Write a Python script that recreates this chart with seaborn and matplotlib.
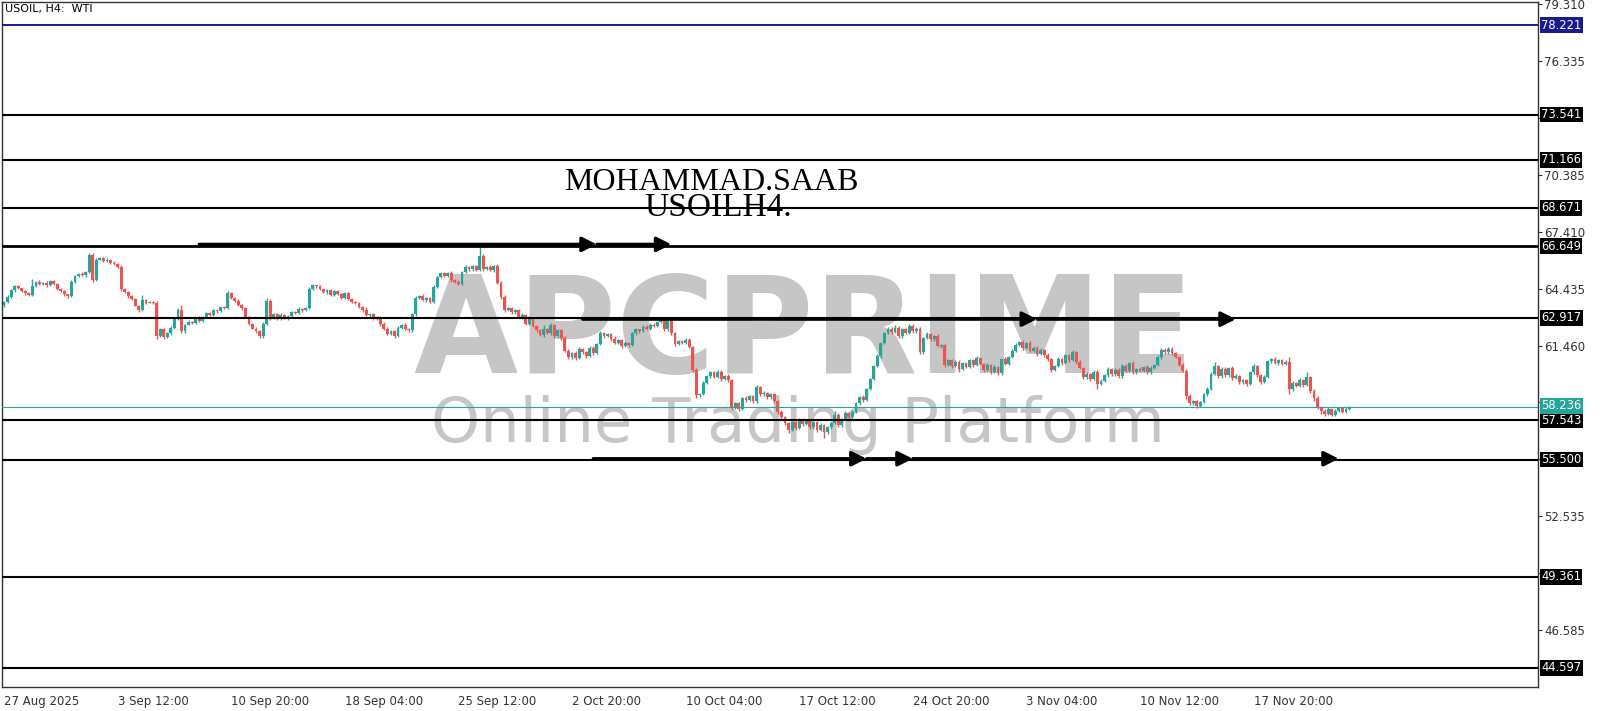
import numpy as np
import matplotlib
matplotlib.use("Agg")
import matplotlib.pyplot as plt
import matplotlib.transforms as mtransforms
import seaborn as sns

sns.set_style("white")
plt.rcParams['font.family'] = ['DejaVu Sans']

# --- USOIL H4 closes (one row = 16 bars, ticks every 32 bars) ---
FIRST_OPEN = 63.60
CLOSE = [
    63.75, 64.00, 64.35, 64.55, 64.45, 64.30, 64.20, 64.10, 64.55, 64.80, 64.70, 64.75, 64.60, 64.85, 64.70, 64.40,
    64.30, 64.15, 64.05, 64.80, 65.10, 65.20, 65.15, 65.30, 66.20, 64.90, 65.95, 66.05, 65.90, 65.95, 65.80, 65.70,
    65.55, 64.40, 64.25, 64.05, 63.90, 63.55, 63.30, 63.85, 63.70, 63.75, 63.70, 61.95, 62.30, 61.90, 62.10, 62.40,
    62.85, 63.30, 62.20, 62.55, 62.70, 62.65, 62.90, 62.75, 62.95, 63.15, 63.05, 63.30, 63.25, 63.45, 63.40, 64.20,
    63.95, 63.80, 63.60, 63.40, 62.95, 62.60, 62.35, 62.20, 61.95, 62.60, 63.80, 62.90, 63.10, 62.85, 63.05, 62.90,
    63.00, 63.20, 63.15, 63.35, 63.30, 63.40, 64.40, 64.60, 64.55, 64.40, 64.25, 64.35, 64.10, 64.30, 64.15, 63.95,
    64.20, 63.90, 63.75, 63.70, 63.45, 63.30, 63.05, 63.10, 62.85, 62.95, 62.60, 62.35, 62.05, 62.20, 61.95, 62.40,
    62.55, 62.30, 62.25, 63.10, 63.95, 64.05, 63.85, 63.95, 63.75, 64.50, 65.05, 65.25, 65.10, 65.25, 64.90, 64.80,
    64.70, 65.30, 65.55, 65.45, 65.60, 65.40, 66.15, 65.45, 65.55, 65.40, 65.60, 64.75, 64.00, 63.30, 63.40, 63.20,
    63.30, 62.95, 63.05, 62.60, 62.90, 62.50, 62.25, 62.00, 62.30, 62.10, 62.55, 61.95, 62.25, 61.85, 61.20, 60.85,
    61.05, 60.80, 61.30, 61.10, 60.90, 61.35, 61.05, 61.55, 62.10, 61.95, 62.05, 61.80, 61.60, 61.75, 61.45, 61.60,
    61.50, 62.10, 62.30, 62.20, 62.45, 62.35, 62.55, 62.50, 62.70, 62.85, 62.30, 62.80, 62.10, 61.55, 61.70, 61.60,
    61.75, 61.40, 60.20, 58.85, 58.95, 59.50, 59.85, 60.05, 59.80, 60.10, 59.70, 59.85, 59.65, 58.20, 58.45, 58.15,
    58.70, 58.60, 58.80, 58.55, 59.30, 58.90, 59.00, 58.75, 58.90, 58.55, 58.00, 57.70, 57.40, 57.05, 57.45, 57.15,
    57.60, 57.35, 57.50, 57.20, 57.45, 57.05, 57.30, 56.95, 57.20, 57.40, 57.85, 57.30, 57.60, 57.95, 57.70, 58.00,
    58.45, 58.75, 58.60, 59.20, 59.70, 60.40, 60.90, 61.60, 62.10, 62.35, 62.15, 62.40, 61.95, 62.30, 62.10, 62.50,
    62.20, 62.35, 61.10, 61.85, 62.05, 61.80, 61.95, 61.45, 61.50, 60.45, 60.70, 60.40, 60.60, 60.25, 60.55, 60.35,
    60.70, 60.45, 60.80, 60.50, 60.20, 60.45, 60.10, 60.35, 60.00, 60.75, 60.50, 60.85, 61.20, 61.50, 61.65, 61.35,
    61.60, 61.20, 61.35, 61.00, 61.25, 60.95, 60.75, 60.20, 60.40, 60.75, 60.55, 60.95, 60.70, 61.10, 60.60, 60.30,
    59.80, 59.95, 59.70, 60.10, 59.45, 59.60, 59.90, 60.25, 59.95, 60.20, 59.85, 60.40, 60.15, 60.55, 60.05, 60.25,
    60.15, 60.35, 60.05, 60.30, 60.45, 60.85, 61.25, 61.10, 61.30, 61.05, 60.85, 60.45, 60.15, 58.80, 58.45, 58.55,
    58.30, 58.50, 58.90, 59.20, 59.95, 60.40, 59.85, 60.25, 59.90, 60.30, 59.75, 59.85, 59.55, 59.65, 59.45, 60.05,
    60.40, 59.90, 59.55, 59.80, 60.65, 60.75, 60.55, 60.70, 60.50, 60.60, 59.20, 59.50, 59.35, 59.65, 59.40, 59.80,
    59.10, 58.70, 58.25, 58.05, 57.90, 58.15, 57.85, 58.05, 58.20, 58.00, 58.15, 58.236,
]

# wick lengths above / below the body, in cents
UP_WICK = [
    6, 10, 8, 5, 6, 4, 8, 5, 40, 6, 8, 5, 10, 6, 4, 5,
    6, 4, 3, 8, 6, 5, 8, 6, 12, 8, 10, 6, 4, 8, 5, 6,
    8, 10, 6, 4, 5, 6, 4, 25, 6, 5, 4, 8, 10, 6, 5, 8,
    6, 10, 30, 5, 8, 6, 4, 10, 5, 6, 8, 5, 6, 4, 8, 12,
    6, 5, 8, 4, 6, 5, 4, 6, 8, 10, 15, 8, 6, 5, 10, 6,
    5, 8, 6, 10, 5, 6, 12, 8, 5, 6, 4, 8, 6, 5, 8, 6,
    5, 8, 6, 4, 5, 6, 20, 8, 5, 6, 4, 8, 6, 5, 8, 6,
    5, 8, 6, 5, 10, 6, 8, 6, 5, 10, 6, 5, 8, 6, 12, 6,
    8, 6, 10, 5, 8, 6, 45, 10, 6, 12, 8, 10, 6, 8, 5, 10,
    6, 8, 10, 5, 8, 6, 5, 8, 25, 6, 10, 5, 8, 6, 10, 8,
    6, 10, 8, 5, 8, 6, 8, 5, 10, 6, 8, 5, 15, 6, 5, 8,
    6, 8, 10, 5, 8, 6, 10, 8, 6, 10, 8, 6, 12, 8, 6, 5,
    8, 10, 6, 8, 5, 10, 8, 6, 10, 8, 6, 8, 10, 6, 5, 8,
    6, 10, 8, 5, 10, 6, 8, 5, 10, 6, 8, 10, 6, 5, 8, 6,
    8, 6, 10, 5, 8, 6, 10, 8, 6, 5, 20, 6, 8, 10, 6, 8,
    6, 8, 10, 6, 8, 5, 10, 6, 8, 10, 6, 15, 8, 6, 10, 8,
    10, 8, 6, 8, 10, 6, 8, 10, 6, 5, 8, 6, 10, 8, 6, 5,
    8, 6, 10, 8, 6, 8, 5, 10, 6, 8, 10, 6, 8, 10, 6, 8,
    6, 8, 10, 6, 8, 5, 10, 8, 6, 10, 8, 6, 8, 15, 6, 8,
    6, 10, 8, 6, 8, 10, 6, 8, 5, 10, 6, 8, 10, 6, 8, 6,
    8, 6, 10, 8, 6, 10, 8, 6, 10, 8, 6, 5, 8, 6, 10, 8,
    6, 8, 10, 8, 10, 20, 6, 8, 10, 6, 8, 10, 6, 8, 6, 10,
    8, 6, 8, 10, 6, 8, 10, 6, 8, 10, 25, 8, 6, 10, 8, 30,
    6, 8, 10, 6, 8, 10, 6, 8, 5, 6, 8, 4,
]
DN_WICK = [
    15, 6, 5, 8, 4, 6, 10, 5, 6, 4, 8, 5, 6, 4, 5, 6,
    4, 8, 10, 6, 5, 4, 6, 8, 5, 10, 6, 4, 5, 6, 8, 5,
    6, 10, 5, 8, 6, 4, 10, 5, 6, 4, 8, 15, 6, 12, 5, 8,
    6, 5, 10, 6, 4, 8, 5, 6, 8, 4, 6, 5, 8, 6, 5, 4,
    8, 6, 5, 10, 6, 8, 5, 6, 12, 8, 6, 10, 5, 8, 6, 5,
    8, 6, 5, 4, 8, 6, 5, 6, 10, 6, 5, 8, 6, 5, 6, 8,
    6, 5, 8, 6, 5, 10, 6, 8, 5, 6, 10, 8, 6, 5, 12, 6,
    8, 5, 10, 6, 8, 5, 6, 10, 6, 8, 5, 6, 8, 5, 10, 6,
    8, 6, 5, 8, 10, 6, 5, 8, 6, 5, 8, 6, 10, 8, 6, 10,
    8, 6, 10, 8, 6, 8, 10, 6, 8, 6, 10, 8, 6, 12, 10, 8,
    10, 12, 6, 8, 10, 6, 8, 5, 6, 8, 6, 10, 8, 6, 10, 8,
    10, 6, 8, 6, 5, 8, 6, 5, 8, 6, 10, 6, 8, 10, 6, 8,
    6, 8, 10, 12, 6, 8, 6, 8, 6, 5, 10, 6, 8, 12, 8, 10,
    6, 8, 6, 10, 8, 6, 8, 10, 6, 8, 10, 12, 10, 15, 8, 10,
    8, 10, 6, 12, 8, 10, 6, 35, 10, 8, 6, 10, 8, 6, 10, 8,
    6, 8, 10, 6, 8, 6, 5, 8, 6, 5, 8, 6, 10, 8, 6, 5,
    8, 6, 10, 8, 6, 10, 8, 6, 10, 12, 8, 10, 6, 15, 8, 6,
    8, 10, 6, 8, 10, 6, 12, 8, 10, 6, 8, 6, 5, 8, 6, 10,
    8, 6, 10, 8, 6, 10, 8, 10, 6, 8, 10, 6, 8, 6, 10, 8,
    10, 8, 12, 6, 25, 8, 6, 10, 8, 6, 10, 8, 6, 10, 8, 6,
    8, 10, 6, 8, 6, 5, 8, 6, 8, 10, 6, 8, 10, 15, 12, 10,
    12, 8, 6, 8, 6, 5, 10, 8, 6, 10, 8, 6, 10, 8, 12, 6,
    6, 10, 8, 6, 5, 8, 6, 10, 8, 6, 30, 10, 8, 6, 10, 8,
    10, 12, 10, 15, 12, 8, 10, 8, 6, 8, 6, 5,
]

DATE_LABELS = ["27 Aug 2025", "3 Sep 12:00", "10 Sep 20:00", "18 Sep 04:00", "25 Sep 12:00",
               "2 Oct 20:00", "10 Oct 04:00", "17 Oct 12:00", "24 Oct 20:00", "3 Nov 04:00",
               "10 Nov 12:00", "17 Nov 20:00"]
BARS_PER_LABEL = 32

PRICE_TICKS = [79.310, 76.335, 73.360, 70.385, 67.410, 64.435, 61.460, 58.485,
               55.510, 52.535, 49.560, 46.585]
# tick labels that sit under a level box on the terminal
HIDDEN_TICKS = [73.360, 58.485, 55.510, 49.560]
LEVELS = [73.541, 71.166, 68.671, 66.649, 62.917, 57.543, 55.500, 49.361, 44.597]
TOP_LEVEL = 78.221
LAST_PRICE = 58.236

# arrows: (price, start bar, bars where heads sit)
ARROWS = [
    (66.75, 55, [167, 188]),
    (62.84, 163, [291, 347]),
    (55.54, 166, [243, 256, 376]),
]

GREEN = "#26a69a"
RED = "#ef5350"
NAVY = "#1a1a8c"
WM = "#c6c6c6"

close = np.array(CLOSE)
opn = np.concatenate([[FIRST_OPEN], close[:-1]])
high = np.maximum(opn, close) + np.array(UP_WICK) / 100
low = np.minimum(opn, close) - np.array(DN_WICK) / 100
idx = np.arange(len(close))
up = close >= opn
colors = np.where(up, GREEN, RED)

fig = plt.figure(figsize=(16, 7.11), dpi=100)
ax = fig.add_axes([2 / 1600, 24 / 711, 1536 / 1600, 685 / 711])
ax.set_facecolor("white")

# watermark
ax.text(0.522, 0.458, "APCPRIME", transform=ax.transAxes, ha="center", va="baseline",
        fontsize=97, fontweight="bold", color=WM, zorder=0)
ax.text(0.518, 0.357, "Online Trading Platform", transform=ax.transAxes, ha="center",
        va="baseline", fontsize=45, color=WM, zorder=0)

# candles
ax.vlines(idx, low, high, colors=colors, lw=1.0, zorder=2)
ax.bar(idx, close - opn, bottom=opn, width=0.8, color=colors, linewidth=0, zorder=2)

# levels
for lv in LEVELS:
    ax.axhline(lv, color="black", lw=2.0 if lv == 66.649 else 1.5, zorder=3)
ax.axhline(TOP_LEVEL, color=NAVY, lw=1.4, zorder=3)
ax.axhline(LAST_PRICE, color=GREEN, lw=0.8, zorder=3)

# arrows
for price, start, heads in ARROWS:
    prev = start
    for h in heads:
        ax.annotate("", xy=(h, price), xytext=(prev, price),
                    arrowprops=dict(arrowstyle="-|>", color="black", lw=2.4,
                                    mutation_scale=22, shrinkA=0, shrinkB=0),
                    zorder=4)
        prev = h

ax.set_xlim(-0.56, 432.1)
ax.set_ylim(43.603, 79.425)

# axes and ticks
ax.yaxis.tick_right()
ax.set_yticks(PRICE_TICKS)
ax.set_yticklabels(["" if v in HIDDEN_TICKS else f"{v:.3f}" for v in PRICE_TICKS])
ax.tick_params(axis="y", direction="out", length=3, pad=1.5, labelsize=8.5,
               labelcolor="#333333", color="#333333", width=0.8)
ax.set_xticks(np.arange(len(DATE_LABELS)) * BARS_PER_LABEL)
ax.set_xticklabels(DATE_LABELS, ha="left")
ax.tick_params(axis="x", direction="out", length=4, pad=2, labelsize=8.5,
               labelcolor="#333333", color="#555555", width=0.8)
for s in ax.spines.values():
    s.set_color("#333333")
    s.set_linewidth(1.0)

# price labels on the right
trans = mtransforms.blended_transform_factory(ax.transAxes, ax.transData)
box_kw = dict(transform=trans, ha="left", va="center", fontsize=8.3, color="white",
              clip_on=False, zorder=6)
for lv in LEVELS:
    ax.text(1.0 + 3 / 1536, lv, f"{lv:.3f}", **box_kw,
            bbox=dict(boxstyle="square,pad=0.12", fc="black", ec="none"))
ax.text(1.0 + 3 / 1536, TOP_LEVEL, f"{TOP_LEVEL:.3f}", **box_kw,
        bbox=dict(boxstyle="square,pad=0.12", fc=NAVY, ec="none"))
ax.text(1.0 + 3 / 1536, LAST_PRICE + 0.08, f"{LAST_PRICE:.3f}", **box_kw,
        bbox=dict(boxstyle="square,pad=0.12", fc=GREEN, ec="none"))

# titles
ax.text(0.462, 0.726, "MOHAMMAD.SAAB", transform=ax.transAxes, ha="center", va="baseline",
        fontsize=23, family=["Liberation Serif", "DejaVu Serif"], color="black", zorder=5)
ax.text(0.466, 0.687, "USOILH4.", transform=ax.transAxes, ha="center", va="baseline",
        fontsize=24, family=["Liberation Serif", "DejaVu Serif"], color="black", zorder=5)
fig.text(5 / 1600, 1 - 9 / 711, "USOIL, H4:  WTI", ha="left", va="center", fontsize=8,
         color="black")

fig.savefig("out.png", dpi=100)
